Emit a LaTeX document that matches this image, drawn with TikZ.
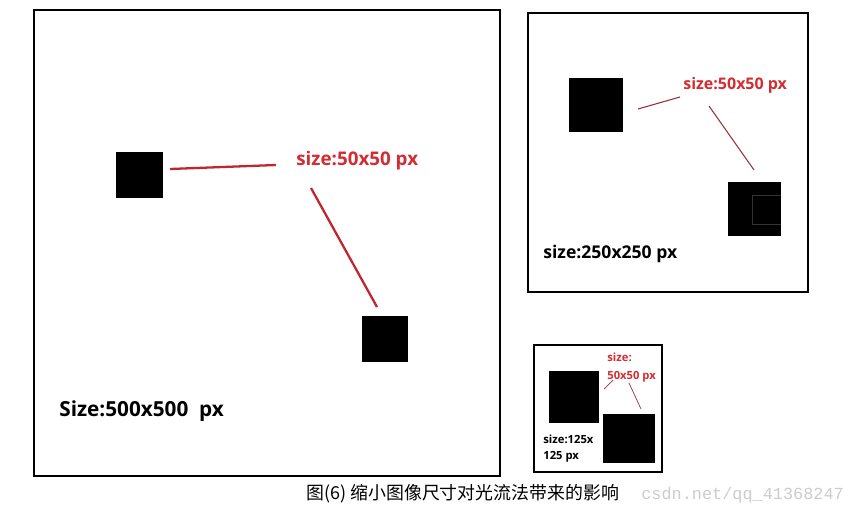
\documentclass[tikz,border=0pt]{standalone}
\usepackage{fontspec}
\setsansfont{Open Sans}
\newfontfamily\cjk{Noto Sans CJK SC}
\newfontfamily\wmfont{Liberation Mono}
\definecolor{labelred}{RGB}{210,45,50}
\definecolor{linered}{RGB}{190,40,45}
\definecolor{thinred}{RGB}{150,50,55}
\begin{document}
\begin{tikzpicture}[x=0.02cm,y=-0.02cm,
  frame/.style={draw=black,line width=1.1pt},
  size label/.style={anchor=west,inner sep=0pt,font=\sffamily\bfseries},
  red label/.style={size label,text=labelred}]

% page size
\useasboundingbox (0,0) rectangle (851,517);

% big frame 500x500
\draw[frame] (34,10) rectangle (500,476);
\fill (116,152) rectangle (163,198);
\fill (362,316) rectangle (408,362);
\node[red label,font=\sffamily\bfseries\fontsize{10.7}{12}\selectfont] (bigred) at (296,161) {size:50x50 px};
\node[size label,font=\sffamily\bfseries\fontsize{11.8}{14}\selectfont] (bigsize) at (59,411) {Size:500x500\ \ px};
\coordinate (b1) at (170,169);
\coordinate (b2) at (276,165);
\coordinate (b3) at (311,188);
\coordinate (b4) at (377,307);
\draw[linered,line width=1.3pt] (b1) -- (b2);
\draw[linered,line width=1.3pt] (b3) -- (b4);

% middle frame 250x250
\draw[frame,line width=0.9pt] (528,13) rectangle (808,292);
\fill (569,78) rectangle (623,132);
\fill (728,182) rectangle (781,236);
\draw[black!80,line width=0.3pt] (781,195) -- (752,195) -- (752,224) -- (781,224);
\node[red label,font=\sffamily\bfseries\fontsize{9.1}{10}\selectfont] (midred) at (683,85) {size:50x50 px};
\node[size label,font=\sffamily\bfseries\fontsize{10}{12}\selectfont] (midsize) at (543,254) {size:250x250 px};
\coordinate (m1) at (638,109);
\coordinate (m2) at (680,97);
\coordinate (m3) at (709,106);
\coordinate (m4) at (754,170);
\draw[thinred,line width=0.6pt] (m1) -- (m2);
\draw[thinred,line width=0.6pt] (m3) -- (m4);

% small frame 125x125
\draw[frame,line width=0.9pt] (534,345) rectangle (662,472);
\fill (549,371) rectangle (599,423);
\fill (603,414) rectangle (655,463);
\node[red label,font=\sffamily\bfseries\fontsize{6.4}{7}\selectfont] (smallred1) at (607,357) {size:};
\node[red label,font=\sffamily\bfseries\fontsize{6.4}{7}\selectfont] (smallred2) at (607,377) {50x50 px};
\node[size label,font=\sffamily\bfseries\fontsize{6.4}{7}\selectfont] (smallsize1) at (543,439) {size:125x};
\node[size label,font=\sffamily\bfseries\fontsize{6.4}{7}\selectfont] (smallsize2) at (543,457) {125 px};
\coordinate (s1) at (604,389);
\coordinate (s2) at (613,380);
\coordinate (s3) at (629,383);
\coordinate (s4) at (641,409);
\draw[thinred,line width=0.4pt] (s1) -- (s2);
\draw[thinred,line width=0.4pt] (s3) -- (s4);

% caption
\node[anchor=west,inner sep=0pt,font=\cjk\fontsize{10.2}{12}\selectfont] (caption) at (306,494) {图(6)\ 缩小图像尺寸对光流法带来的影响};
\node[anchor=west,inner sep=0pt,text=black!20,font=\wmfont\fontsize{9.6}{11}\selectfont] (mark) at (641,495) {csdn.net/qq\_41368247};

\end{tikzpicture}
\end{document}
